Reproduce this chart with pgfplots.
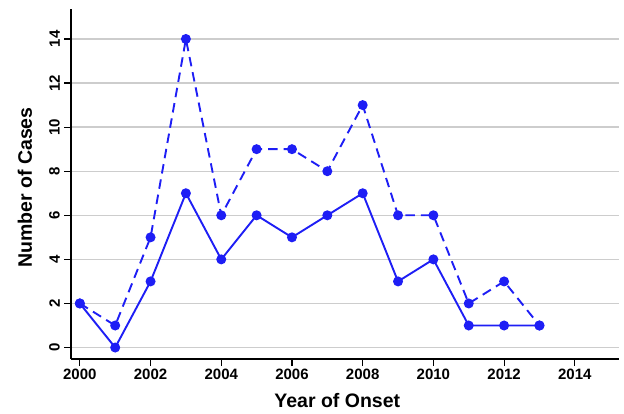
\documentclass[border=0pt]{standalone}
\usepackage{fontspec}
\setmainfont{Liberation Sans}
\usepackage{pgfplots}
\pgfplotsset{compat=1.18}
\definecolor{lineblue}{RGB}{30,30,245}
\definecolor{gridgray}{RGB}{205,205,205}
\begin{document}
\begin{tikzpicture}
\begin{axis}[
  scale only axis,
  width=548bp, height=350bp,
  at={(0,0)}, anchor=south west,
  xmin=1999.75, xmax=2015.25,
  ymin=-0.52, ymax=15.36,
  axis x line*=bottom, axis y line*=left,
  axis line style={line width=2.3bp, black, -},
  xtick={2000,2002,...,2014},
  ytick={0,2,...,14},
  tick align=outside,
  major tick length=7bp,
  tick style={line width=1.2bp, black},
  ymajorgrids,
  grid style={line width=1.4bp, gridgray},
  /pgf/number format/assume math mode=true,
  /pgf/number format/1000 sep={},
  ticklabel style={font=\fontsize{15bp}{18bp}\selectfont\bfseries},
  yticklabel style={rotate=90, anchor=south, inner ysep=4bp},
  xticklabel style={anchor=north, inner ysep=3bp},
  xlabel={Year of Onset},
  ylabel={Number of Cases},
  label style={font=\fontsize{19.5bp}{23bp}\selectfont\bfseries},
  xlabel style={at={(axis description cs:0.486,-0.12)}, anchor=center},
  ylabel style={at={(axis description cs:-0.084,0.49)}, anchor=center},
  clip=false,
]
\addplot[lineblue, line width=1.9bp, dash pattern=on 9.5bp off 6bp, mark=*, mark size=4bp, mark options={solid, fill=lineblue, draw=lineblue}]
coordinates {
(2000,2) (2001,1) (2002,5) (2003,14) (2004,6) (2005,9) (2006,9) (2007,8)
(2008,11) (2009,6) (2010,6) (2011,2) (2012,3) (2013,1)
};
\addplot[lineblue, line width=1.9bp, solid, mark=*, mark size=4bp, mark options={solid, fill=lineblue, draw=lineblue}]
coordinates {
(2000,2) (2001,0) (2002,3) (2003,7) (2004,4) (2005,6) (2006,5) (2007,6)
(2008,7) (2009,3) (2010,4) (2011,1) (2012,1) (2013,1)
};
\end{axis}
\pgfresetboundingbox
\path (-71bp,-55bp) rectangle (553bp,359bp);
\end{tikzpicture}
\end{document}
